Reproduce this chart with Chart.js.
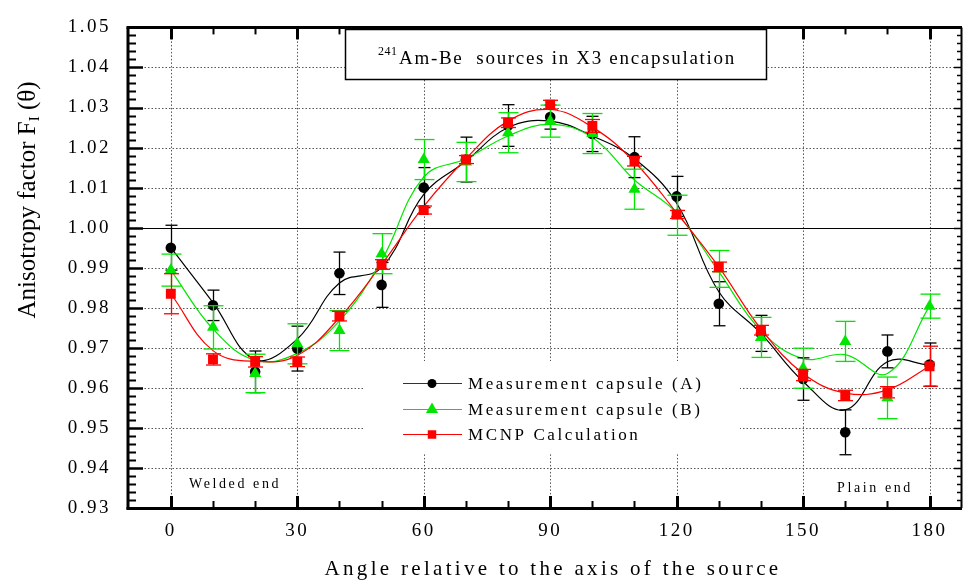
<!DOCTYPE html>
<html>
<head>
<meta charset="utf-8">
<title>Anisotropy factor - 241Am-Be in X3 encapsulation</title>
<script src="https://cdn.jsdelivr.net/npm/chart.js@4.4.1/dist/chart.umd.min.js"></script>
<style>
  html, body { margin: 0; padding: 0; background: #fff; }
  #wrap { width: 969px; height: 583px; }
</style>
</head>
<body>
<div id="wrap"><canvas id="chart" width="969" height="583"></canvas></div>
<script>
// angles in degrees
const angles = [0, 10, 20, 30, 40, 50, 60, 70, 80, 90, 100, 110, 120, 130, 140, 150, 160, 170, 180];

// measured points with their uncertainties
const capsuleA    = [0.9950, 0.9806, 0.9640, 0.9698, 0.9886, 0.9857, 1.0100, 1.0170, 1.0255, 1.0276, 1.0234, 1.0176, 1.0078, 0.9810, 0.9736, 0.9622, 0.9489, 0.9691, 0.9658];
const capsuleAErr = [0.0056, 0.0038, 0.0052, 0.0056, 0.0053, 0.0056, 0.0050, 0.0056, 0.0052, 0.0030, 0.0044, 0.0051, 0.0050, 0.0055, 0.0045, 0.0053, 0.0056, 0.0041, 0.0054];
const capsuleB    = [0.9894, 0.9751, 0.9636, 0.9710, 0.9743, 0.9935, 1.0170, 1.0164, 1.0237, 1.0266, 1.0235, 1.0096, 1.0031, 0.9897, 0.9726, 0.9649, 0.9716, 0.9575, 0.9804];
const capsuleBErr = [0.0040, 0.0054, 0.0048, 0.0050, 0.0050, 0.0050, 0.0050, 0.0049, 0.0050, 0.0040, 0.0050, 0.0050, 0.0050, 0.0046, 0.0050, 0.0050, 0.0050, 0.0052, 0.0030];
const mcnp        = [0.9835, 0.9671, 0.9665, 0.9665, 0.9779, 0.9908, 1.0044, 1.0170, 1.0262, 1.0307, 1.0254, 1.0166, 1.0033, 0.9902, 0.9744, 0.9632, 0.9581, 0.9589, 0.9654];
const mcnpErr     = [0.0050, 0.0014, 0.0013, 0.0012, 0.0012, 0.0012, 0.0010, 0.0010, 0.0012, 0.0011, 0.0016, 0.0012, 0.0010, 0.0012, 0.0012, 0.0014, 0.0013, 0.0014, 0.0050];

// smoothed fit curves through each series
const fitA = [0.9950, 0.9813, 0.9671, 0.9722, 0.9862, 0.9900, 1.0083, 1.0166, 1.0250, 1.0266, 1.0229, 1.0172, 1.0061, 0.9840, 0.9736, 0.9616, 0.9545, 0.9665, 0.9657];
const fitB = [0.9894, 0.9747, 0.9669, 0.9686, 0.9767, 0.9918, 1.0127, 1.0172, 1.0229, 1.0258, 1.0225, 1.0119, 1.0037, 0.9890, 0.9743, 0.9673, 0.9683, 0.9636, 0.9804];
const fitC = [0.9835, 0.9693, 0.9666, 0.9681, 0.9775, 0.9908, 1.0053, 1.0172, 1.0266, 1.0295, 1.0251, 1.0164, 1.0037, 0.9902, 0.9747, 0.9636, 0.9587, 0.9595, 0.9654];

const seriesNames = ['Measurement capsule (A)', 'Measurement capsule (B)', 'MCNP Calculation'];

const xTicks = [0, 30, 60, 90, 120, 150, 180];
const yTicks = [0.93, 0.94, 0.95, 0.96, 0.97, 0.98, 0.99, 1.00, 1.01, 1.02, 1.03, 1.04, 1.05];
const yTickLabels = ['0.93', '0.94', '0.95', '0.96', '0.97', '0.98', '0.99', '1.00', '1.01', '1.02', '1.03', '1.04', '1.05'];

const SERIF = '"Liberation Serif", "Times New Roman", serif';
const BLACK = '#000000';
const GREEN = '#00e600';
const RED = '#ff0000';

function pairs(ys) {
    return angles.map((a, i) => ({ x: a, y: ys[i] }));
}

function seg(ctx, x1, y1, x2, y2) {
    ctx.beginPath();
    ctx.moveTo(x1, y1);
    ctx.lineTo(x2, y2);
    ctx.stroke();
}

// letter spaced text for all labels on the canvas
const spacing = {
    id: 'spacing',
    beforeDraw(chart) {
        chart.ctx.letterSpacing = '2.5px';
    }
};

// dotted grid, unity line and white box behind the legend
const grid = {
    id: 'grid',
    beforeDatasetsDraw(chart) {
        const { ctx, chartArea: a, scales: { x, y } } = chart;
        ctx.save();
        ctx.letterSpacing = '0px';
        ctx.strokeStyle = '#555';
        ctx.lineWidth = 1;
        ctx.setLineDash([1.5, 2]);
        xTicks.forEach(v => {
            const px = Math.round(x.getPixelForValue(v)) + 0.5;
            seg(ctx, px, a.top, px, a.bottom);
        });
        yTicks.slice(1, -1).forEach(v => {
            if (v === 1) return;
            const py = Math.round(y.getPixelForValue(v)) + 0.5;
            seg(ctx, a.left, py, a.right, py);
        });
        ctx.setLineDash([]);
        ctx.strokeStyle = BLACK;
        const one = Math.round(y.getPixelForValue(1)) + 0.5;
        seg(ctx, a.left, one, a.right, one);

        // legend background
        ctx.fillStyle = '#fff';
        ctx.fillRect(365, 361, 375, 93);
        ctx.restore();
    }
};

// error bars, drawn just under each marker series
const errorBars = {
    id: 'errorBars',
    beforeDatasetDraw(chart, args) {
        const ds = chart.data.datasets[args.index];
        if (!ds.errors) return;
        const { ctx, scales: { y } } = chart;
        ctx.save();
        ctx.strokeStyle = ds.borderColor;
        ctx.lineWidth = ds.errorWidth;
        args.meta.data.forEach((pt, i) => {
            const v = ds.data[i].y;
            const e = ds.errors[i];
            const top = y.getPixelForValue(v + e);
            const bot = y.getPixelForValue(v - e);
            const px = Math.round(pt.x) + 0.5;
            seg(ctx, px, top, px, bot);
            seg(ctx, px - ds.capHalf, top, px + ds.capHalf, top);
            seg(ctx, px - ds.capHalf, bot, px + ds.capHalf, bot);
        });
        ctx.restore();
    }
};

// axis frame with inward ticks, title box, legend and notes
const frame = {
    id: 'frame',
    afterDatasetsDraw(chart) {
        const { ctx, chartArea: a, scales: { x, y } } = chart;
        ctx.save();
        ctx.strokeStyle = BLACK;

        // x ticks, major every 30 degrees, minor every 10
        angles.forEach(v => {
            const px = Math.round(x.getPixelForValue(v)) + 0.5;
            const major = xTicks.includes(v);
            ctx.lineWidth = major ? 3 : 2;
            const len = major ? 12 : 7;
            seg(ctx, px, a.bottom, px, a.bottom - len);
            seg(ctx, px, a.top, px, a.top + len);
        });

        // y ticks, major every 0.01, minor every 0.002
        for (let i = 0; i < yTicks.length - 1; i++) {
            const p0 = y.getPixelForValue(yTicks[i]);
            const p1 = y.getPixelForValue(yTicks[i + 1]);
            for (let k = 0; k < 5; k++) {
                const py = Math.round(p0 + (p1 - p0) * k / 5) + 0.5;
                if (i === 0 && k === 0) continue;
                const major = k === 0;
                ctx.lineWidth = major ? 2.5 : 2;
                seg(ctx, a.left, py, a.left + (major ? 16 : 9), py);
                ctx.lineWidth = 1.5;
                seg(ctx, a.right, py, a.right - (major ? 8 : 5), py);
            }
        }

        // axis lines
        ctx.lineWidth = 3;
        seg(ctx, a.left + 1, a.top, a.left + 1, a.bottom + 1.5);
        seg(ctx, a.left - 0.5, a.bottom + 0.5, a.right, a.bottom + 0.5);
        seg(ctx, a.left - 0.5, a.top, a.right, a.top);
        ctx.lineWidth = 2;
        seg(ctx, a.right - 0.5, a.top, a.right - 0.5, a.bottom);

        // title box
        ctx.fillStyle = '#fff';
        ctx.fillRect(345, 29, 422, 51);
        ctx.lineWidth = 1.5;
        ctx.strokeRect(345.5, 29.5, 421, 50);
        ctx.fillStyle = BLACK;
        ctx.textBaseline = 'alphabetic';
        ctx.textAlign = 'left';
        ctx.letterSpacing = '0.5px';
        ctx.font = '12px ' + SERIF;
        ctx.fillText('241', 378, 55);
        ctx.letterSpacing = '1.7px';
        ctx.font = '19px ' + SERIF;
        ctx.fillText('Am-Be  sources in X3 encapsulation', 399, 64);

        // legend
        const rows = [383, 409, 434];
        const styles = [
            { color: '#333', fill: BLACK, pointStyle: 'circle', radius: 4.5 },
            { color: GREEN, fill: GREEN, pointStyle: 'triangle', radius: 7 },
            { color: RED, fill: RED, pointStyle: 'rect', radius: 6 }
        ];
        seriesNames.forEach((name, i) => {
            const s = styles[i];
            const ry = rows[i] + 0.5;
            ctx.strokeStyle = s.color;
            ctx.lineWidth = 1.2;
            seg(ctx, 403, ry, 462, ry);
            ctx.fillStyle = s.fill;
            ctx.strokeStyle = s.fill;
            Chart.helpers.drawPoint(ctx, { pointStyle: s.pointStyle, radius: s.radius, rotation: 0, borderWidth: 0 }, 432, ry);
            ctx.fillStyle = BLACK;
            ctx.letterSpacing = '2.6px';
            ctx.font = '17px ' + SERIF;
            ctx.textBaseline = 'middle';
            ctx.fillText(name, 468, ry + 1);
        });

        // end notes
        ctx.textBaseline = 'alphabetic';
        ctx.letterSpacing = '2.6px';
        ctx.font = '14px ' + SERIF;
        ctx.fillText('Welded end', 189, 488);
        ctx.fillText('Plain end', 837, 492);
        ctx.restore();
    }
};

// axis titles
const titles = {
    id: 'titles',
    afterDraw(chart) {
        const { ctx } = chart;
        ctx.save();
        ctx.fillStyle = BLACK;
        ctx.letterSpacing = '3.3px';
        ctx.font = '21px ' + SERIF;
        ctx.textAlign = 'center';
        ctx.textBaseline = 'alphabetic';
        ctx.fillText('Angle relative to the axis of the source', 553, 575);

        // y title with subscript, rotated
        ctx.translate(28, 200);
        ctx.rotate(-Math.PI / 2);
        ctx.letterSpacing = '0px';
        ctx.textAlign = 'left';
        ctx.textBaseline = 'middle';
        const main = '25px ' + SERIF;
        const sub = '15px ' + SERIF;
        const p1 = 'Anisotropy factor F';
        const p2 = 'I';
        const p3 = ' (\u03B8)';
        ctx.font = main;
        const w1 = ctx.measureText(p1).width;
        const w3 = ctx.measureText(p3).width;
        ctx.font = sub;
        const w2 = ctx.measureText(p2).width;
        let cx = -(w1 + w2 + w3) / 2;
        ctx.font = main;
        ctx.fillText(p1, cx, 0);
        cx += w1;
        ctx.font = sub;
        ctx.fillText(p2, cx, 7);
        cx += w2;
        ctx.font = main;
        ctx.fillText(p3, cx, 0);
        ctx.restore();
    }
};

const fitLine = (ys, color, order) => ({
    data: pairs(ys),
    borderColor: color,
    borderWidth: 1.2,
    pointRadius: 0,
    tension: 0.4,
    fill: false,
    order: order
});

const markers = (ys, errs, color, pointStyle, radius, capHalf, order) => ({
    data: pairs(ys),
    errors: errs,
    capHalf: capHalf,
    errorWidth: 1.3,
    showLine: false,
    borderColor: color,
    backgroundColor: color,
    pointStyle: pointStyle,
    pointRadius: radius,
    pointBorderWidth: 0,
    order: order
});

const ctx = document.getElementById('chart').getContext('2d');

new Chart(ctx, {
    type: 'line',
    data: {
        datasets: [
            markers(mcnp, mcnpErr, RED, 'rect', 7, 7.5, 0),
            markers(capsuleB, capsuleBErr, GREEN, 'triangle', 7, 10, 1),
            markers(capsuleA, capsuleAErr, BLACK, 'circle', 5.3, 6, 2),
            fitLine(fitC, RED, 3),
            fitLine(fitB, GREEN, 4),
            fitLine(fitA, BLACK, 5)
        ]
    },
    options: {
        responsive: false,
        animation: false,
        layout: { padding: { left: 0, right: 1.5, top: 18, bottom: 0 } },
        plugins: {
            legend: { display: false },
            tooltip: { enabled: false },
            title: { display: false }
        },
        scales: {
            x: {
                type: 'linear',
                min: -10.4,
                max: 187.7,
                afterBuildTicks: scale => { scale.ticks = xTicks.map(v => ({ value: v })); },
                afterFit: scale => { scale.height = 75; },
                grid: { display: false, drawTicks: false },
                border: { display: false },
                ticks: {
                    autoSkip: false,
                    maxRotation: 0,
                    padding: 12,
                    color: BLACK,
                    font: { family: SERIF, size: 19 },
                    callback: v => String(v)
                }
            },
            y: {
                type: 'linear',
                min: 0.93,
                max: 1.05,
                afterBuildTicks: scale => { scale.ticks = yTicks.map(v => ({ value: v })); },
                afterFit: scale => { scale.width = 127; },
                grid: { display: false, drawTicks: false },
                border: { display: false },
                ticks: {
                    autoSkip: false,
                    padding: 16,
                    color: BLACK,
                    font: { family: SERIF, size: 19 },
                    callback: (v, i) => yTickLabels[i]
                }
            }
        }
    },
    plugins: [spacing, grid, errorBars, frame, titles]
});
</script>
</body>
</html>
